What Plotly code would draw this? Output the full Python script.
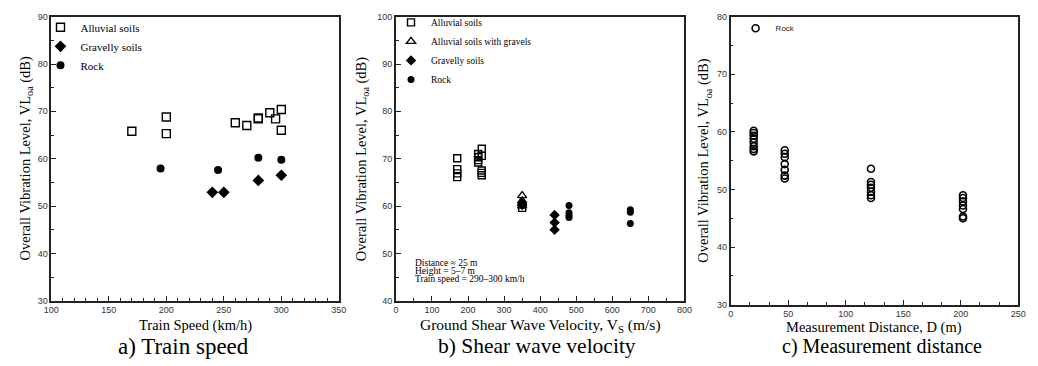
import plotly.graph_objects as go

# ---------------- data ----------------
# a) Train speed
speed_alluvial = [170, 200, 200, 260, 270, 280, 280, 290, 295, 300, 300]
vla_speed_alluvial = [65.8, 68.8, 65.3, 67.6, 67.0, 68.4, 68.6, 69.7, 68.4, 70.4, 66.0]
speed_gravelly = [240, 250, 280, 300]
vla_speed_gravelly = [52.9, 52.9, 55.4, 56.5]
speed_rock = [195, 245, 280, 300]
vla_speed_rock = [57.9, 57.6, 60.2, 59.8]

# b) Shear wave velocity
vs_alluvial = [170, 170, 170, 170, 228, 228, 228, 228, 238, 238, 238, 238, 238, 350]
vla_vs_alluvial = [70.1, 67.8, 66.9, 66.1, 71.0, 70.3, 69.7, 69.2, 72.1, 70.6, 67.5, 67.0, 66.5, 59.6]
vs_allu_gravel = [350, 350, 350, 350]
vla_vs_allu_gravel = [62.2, 61.1, 60.5, 60.0]
vs_gravelly = [350, 350, 440, 440, 440]
vla_vs_gravelly = [60.7, 60.2, 58.1, 56.5, 55.0]
vs_rock = [480, 480, 480, 480, 650, 650, 650]
vla_vs_rock = [60.1, 58.6, 58.0, 57.6, 59.2, 58.7, 56.3]

# c) Measurement distance
dist_rock = [20, 20, 20, 20, 20, 20, 20, 20,
             47, 47, 47, 47, 47, 47, 47,
             122, 122, 122, 122, 122, 122, 122,
             202, 202, 202, 202, 202, 202, 202]
vla_dist_rock = [60.2, 59.8, 59.3, 58.8, 58.2, 57.5, 57.0, 56.6,
                 56.8, 56.2, 55.6, 54.4, 53.4, 52.4, 51.9,
                 53.6, 51.3, 50.8, 50.3, 49.6, 49.0, 48.5,
                 49.0, 48.5, 47.9, 47.2, 46.6, 45.3, 45.0]

captions = ["a) Train speed", "b) Shear wave velocity", "c) Measurement distance"]
xtitles = ["Train Speed (km/h)", "Ground Shear Wave Velocity, V<sub>S</sub> (m/s)",
           "Measurement Distance, D (m)"]
ytitle = "Overall Vibration Level, VL<sub>oa</sub> (dB)"
note_lines = ["Distance \u2248 25 m", "Height = 5\u20137 m", "Train speed = 290\u2013300 km/h"]

# ---------------- figure ----------------
W, H = 1038, 366
SERIF = "Liberation Serif"
SANS = "Liberation Sans"

def px(x):
    return x / W

def py(y):
    return 1 - y / H

fig = go.Figure()

def add(x, y, name, symbol, xa, ya, legend, size=8, lw=1.4):
    fig.add_trace(go.Scatter(
        x=x, y=y, mode="markers", name=name, xaxis=xa, yaxis=ya, legend=legend,
        marker=dict(symbol=symbol, size=size, color="black",
                    line=dict(color="black", width=lw)),
        cliponaxis=False))

add(speed_alluvial, vla_speed_alluvial, "Alluvial soils", "square-open", "x", "y", "legend", 8)
add(speed_gravelly, vla_speed_gravelly, "Gravelly soils", "diamond", "x", "y", "legend", 9, 0)
add(speed_rock, vla_speed_rock, "Rock", "circle", "x", "y", "legend", 8, 0)

add(vs_alluvial, vla_vs_alluvial, "Alluvial soils", "square-open", "x2", "y2", "legend2", 7)
add(vs_allu_gravel, vla_vs_allu_gravel, "Alluvial soils with gravels", "triangle-up-open", "x2", "y2", "legend2", 8)
add(vs_gravelly, vla_vs_gravelly, "Gravelly soils", "diamond", "x2", "y2", "legend2", 8, 0)
add(vs_rock, vla_vs_rock, "Rock", "circle", "x2", "y2", "legend2", 7, 0)

add(dist_rock, vla_dist_rock, "Rock", "circle-open", "x3", "y3", "legend3", 7, 1.6)

doms_x = [(44, 336), (394, 687), (734, 1026)]
doms_y = [(12, 304), (12, 304), (12, 308)]
xr = [(100, 350), (0, 800), (0, 250)]
yr = [(30, 90), (40, 100), (30, 80)]
xdt = [50, 100, 50]
xminor = [10, 50, 50 / 3]

axis_common = dict(showgrid=False, zeroline=False, showline=True, linecolor="#222",
                   linewidth=1.5, mirror=True, ticks="inside", ticklen=5, tickwidth=1,
                   tickcolor="#222", tickfont=dict(family=SANS, size=9, color="#333"))

for i in range(3):
    sx = "" if i == 0 else str(i + 1)
    fig.layout["xaxis" + sx] = dict(
        axis_common, domain=[px(doms_x[i][0]), px(doms_x[i][1])], range=list(xr[i]),
        tick0=xr[i][0], dtick=xdt[i], anchor="y" + sx,
        minor=dict(ticks="inside", ticklen=3, dtick=xminor[i], tick0=xr[i][0],
                   tickcolor="#222", showgrid=False))
    fig.layout["yaxis" + sx] = dict(
        axis_common, domain=[py(doms_y[i][1]), py(doms_y[i][0])], range=list(yr[i]),
        dtick=10, anchor="x" + sx,
        minor=dict(ticks="inside", ticklen=3, dtick=5, tickcolor="#222", showgrid=False))

ann = []
# captions
for cx, t, fs in zip([178, 537, 888], captions, [23, 21.5, 20]):
    ann.append(dict(x=px(cx), y=py(351), xref="paper", yref="paper", text=t, showarrow=False,
                    xanchor="center", yanchor="middle",
                    font=dict(family=SERIF, size=fs, color="black")))
# x titles
for (x0, x1), t, fs, ty in zip(doms_x, xtitles, [14.5, 15.5, 14.5], [330, 330, 332]):
    ann.append(dict(x=px((x0 + x1) / 2), y=py(ty), xref="paper", yref="paper", text=t,
                    showarrow=False, xanchor="center", yanchor="middle",
                    font=dict(family=SERIF, size=fs, color="black")))
# y titles
for yx, (y0, y1) in zip([18, 359, 707], doms_y):
    ann.append(dict(x=px(yx), y=py((y0 + y1) / 2), xref="paper", yref="paper", text=ytitle,
                    showarrow=False, textangle=-90, xanchor="center", yanchor="middle",
                    font=dict(family=SERIF, size=14.5, color="black")))
# note in panel b
for ly, t in zip([265, 273.5, 282], note_lines):
    ann.append(dict(x=px(411), y=py(ly), xref="paper", yref="paper", text=t, showarrow=False,
                    xanchor="left", yanchor="middle",
                    font=dict(family=SERIF, size=9.5, color="black")))

fig.update_layout(
    width=W, height=H, margin=dict(l=0, r=0, t=0, b=0),
    paper_bgcolor="white", plot_bgcolor="white",
    annotations=ann,
    legend=dict(x=px(33), y=py(8), xanchor="left", yanchor="top", bgcolor="rgba(0,0,0,0)",
                font=dict(family=SERIF, size=11, color="black"), itemwidth=30),
    legend2=dict(x=px(389), y=py(3), xanchor="left", yanchor="top", bgcolor="rgba(0,0,0,0)",
                 font=dict(family=SERIF, size=9.5, color="black"), itemwidth=30),
    legend3=dict(x=px(739), y=py(9), xanchor="left", yanchor="top", bgcolor="rgba(0,0,0,0)",
                 font=dict(family=SANS, size=8, color="#222"), itemwidth=30),
)

fig.write_html("out.html", config={"displayModeBar": False},
               post_script="document.body.style.margin='0';document.body.style.overflow='hidden';")
